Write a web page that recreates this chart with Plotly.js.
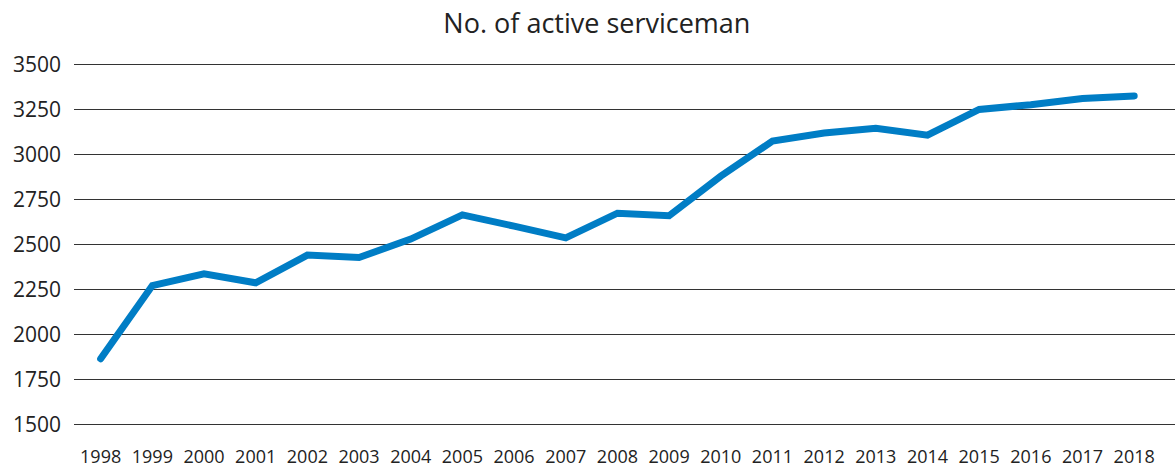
<!DOCTYPE html>
<html>
<head>
<meta charset="utf-8">
<script src="https://cdn.plot.ly/plotly-3.0.1.min.js"></script>
<style>
html,body{margin:0;padding:0;background:#fff;}
#chart{width:1175px;height:470px;}
.scatterlayer .js-line{stroke-linecap:round !important;}
</style>
</head>
<body>
<div id="chart"></div>
<script>
const years = ['1998','1999','2000','2001','2002','2003','2004','2005','2006','2007','2008','2009','2010','2011','2012','2013','2014','2015','2016','2017','2018'];
const servicemen = [1865, 2272, 2337, 2287, 2441, 2428, 2530, 2665, 2602, 2537, 2674, 2660, 2880, 3075, 3120, 3146, 3108, 3251, 3277, 3312, 3326];
const yTicks = [1500, 1750, 2000, 2250, 2500, 2750, 3000, 3250, 3500];
const chartTitle = 'No. of active serviceman';

const trace = {
  x: years.map((_, i) => i),
  y: servicemen,
  type: 'scatter',
  mode: 'lines',
  line: {color: '#007dc5', width: 7},
  hoverinfo: 'x+y'
};

const layout = {
  width: 1175, height: 470,
  margin: {l: 74, r: 0, t: 61, b: 42},
  paper_bgcolor: '#fff', plot_bgcolor: '#fff',
  showlegend: false,
  font: {family: 'Open Sans, sans-serif', color: '#222', size: 18},
  title: {text: chartTitle, x: 0.508, xanchor: 'center', y: 0.949, yanchor: 'middle', font: {size: 27, color: '#222'}},
  xaxis: {
    tickmode: 'array',
    tickvals: years.map((_, i) => i),
    ticktext: years,
    range: [-0.516, 20.79],
    showgrid: false, zeroline: false, showline: false,
    ticks: '', ticklabelstandoff: 16,
    tickfont: {size: 18}
  },
  yaxis: {
    tickmode: 'array',
    tickvals: yTicks,
    ticktext: yTicks.map(String),
    range: [1480, 3520],
    showgrid: true, gridcolor: '#333', gridwidth: 1,
    zeroline: false, showline: false,
    ticks: '', ticklabelstandoff: 12,
    tickfont: {size: 21}
  }
};

Plotly.newPlot('chart', [trace], layout, {displayModeBar: false, staticPlot: true});
</script>
</body>
</html>
